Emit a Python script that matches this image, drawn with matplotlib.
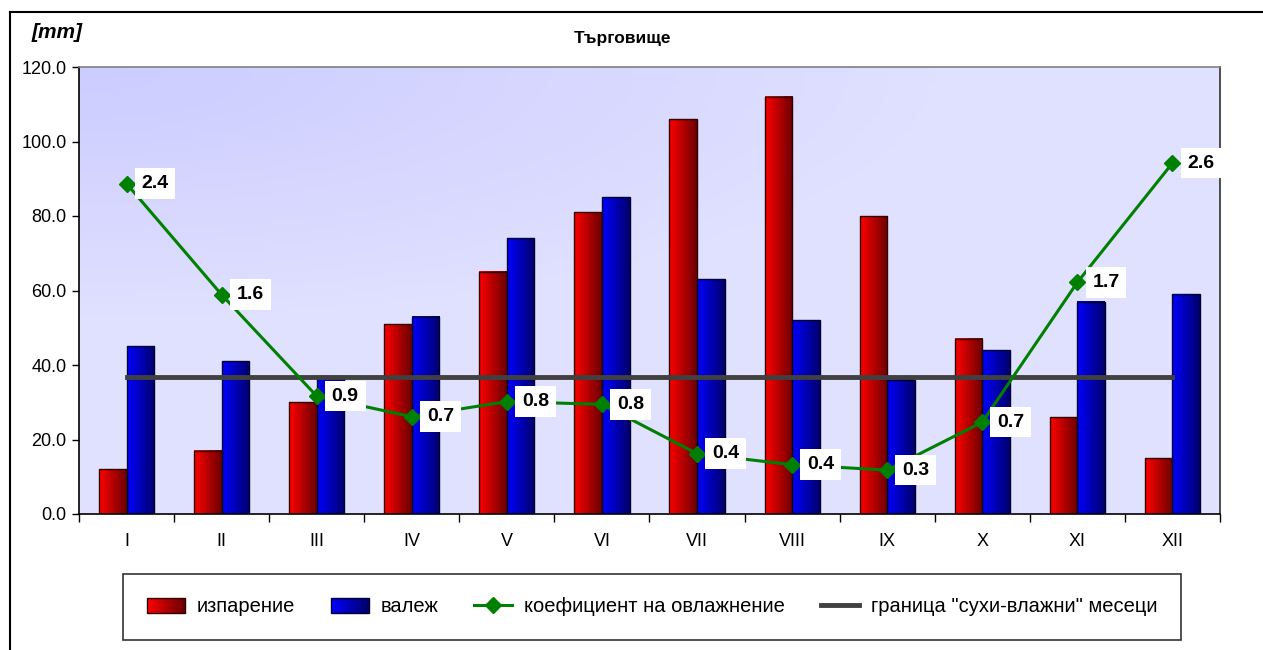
import numpy as np
import matplotlib
matplotlib.use("Agg")
import matplotlib.pyplot as plt
from matplotlib.patches import Rectangle
from matplotlib.lines import Line2D
from matplotlib.legend_handler import HandlerBase

plt.rcParams['font.family'] = ['Liberation Sans', 'DejaVu Sans']

months = ['I', 'II', 'III', 'IV', 'V', 'VI', 'VII', 'VIII', 'IX', 'X', 'XI', 'XII']
evaporation = [12, 17, 30, 51, 65, 81, 106, 112, 80, 47, 26, 15]
precipitation = [45, 41, 37, 53, 74, 85, 63, 52, 36, 44, 57, 59]
coefficient = [2.41, 1.60, 0.86, 0.71, 0.82, 0.80, 0.44, 0.36, 0.32, 0.67, 1.69, 2.56]
boundary = [1.0] * 12
mm_per_coef = 36.8
y_ticks = [0, 20, 40, 60, 80, 100, 120]

title = 'Търговище'
unit = '[mm]'
lbl_evap = 'изпарение'
lbl_prec = 'валеж'
lbl_coef = 'коефициент на овлажнение'
lbl_bound = 'граница "сухи-влажни" месеци'

fig = plt.figure(figsize=(12.63, 6.5), dpi=100)
ax = fig.add_axes([79/1263, 1-514/650, (1220-79)/1263, (514-67)/650])

# background gradient (darker at top-left)
ny, nx = 100, 200
u = np.linspace(0, 1, nx)[None, :]
v = np.linspace(0, 1, ny)[:, None]
t = np.clip(np.sqrt((u*1.2)**2 + (v*1.6)**2) / 0.9, 0, 1)
c = (0xCC + (0xE0 - 0xCC) * t) / 255.0
bg = np.dstack([c, c, np.ones_like(c)])
ax.imshow(bg, extent=[0, 1, 0, 1], origin='upper', transform=ax.transAxes, aspect='auto', zorder=0)

def grad(col_l, col_r, n=64):
    a = np.array(col_l)[None, :]
    b = np.array(col_r)[None, :]
    s = np.linspace(0, 1, n)[:, None]
    return (a * (1 - s) + b * s)[None, :, :]

red_grad = grad((1.0, 0.0, 0.0), (0.42, 0.0, 0.0))
blue_grad = grad((0.0, 0.0, 1.0), (0.0, 0.0, 0.42))

x = np.arange(len(months))
w = 0.29
bars_r = ax.bar(x - w/2, evaporation, width=w, facecolor='none', edgecolor='#300000', linewidth=1.0, zorder=3)
bars_b = ax.bar(x + w/2, precipitation, width=w, facecolor='none', edgecolor='#000030', linewidth=1.0, zorder=3)
for bars, g in ((bars_r, red_grad), (bars_b, blue_grad)):
    for r in bars:
        x0, wd, h = r.get_x(), r.get_width(), r.get_height()
        ax.imshow(g, extent=[x0, x0 + wd, 0, h], aspect='auto', zorder=2, interpolation='bilinear')

ax.set_xlim(-0.5, len(months) - 0.5)
ax.set_ylim(0, 120)
ax.set_yticks(y_ticks)
ax.set_yticklabels([f'{v:.1f}' for v in y_ticks])
ax.set_xticks(np.arange(len(months) + 1) - 0.5)
ax.set_xticklabels([])
ax.set_xticks(x, minor=True)
ax.set_xticklabels(months, minor=True)
ax.tick_params(axis='x', which='major', direction='out', length=6, width=1, color='black')
ax.tick_params(axis='x', which='minor', length=0, pad=14, labelsize=13)
ax.tick_params(axis='y', direction='out', length=5, width=1, labelsize=13, pad=4)
ax.spines['left'].set_color('black')
ax.spines['bottom'].set_color('black')
ax.spines['top'].set_color('#808080')
ax.spines['right'].set_color('#303030')
for s in ax.spines.values():
    s.set_linewidth(1.2)

ax2 = ax.twinx()
ax2.set_ylim(0, 120 / mm_per_coef)
ax2.axis('off')
ax2.plot(x, boundary, color='#404040', linewidth=3.5, zorder=3)
ax2.plot(x, coefficient, color='#008000', linewidth=2.2, marker='D', markersize=8,
         markerfacecolor='#008000', markeredgecolor='#008000', zorder=4)
for xi, cv in zip(x, coefficient):
    ax2.annotate(f'{cv:.1f}', (xi, cv), xytext=(15, 0), textcoords='offset pixels',
                 ha='left', va='center', fontsize=14, fontweight='bold', zorder=5,
                 bbox=dict(boxstyle='square,pad=0.35', facecolor='white', edgecolor='none'))

fig.text(622/1263, 1-38/650, title, ha='center', va='center', fontsize=12.5, fontweight='bold')
fig.text(32/1263, 1-32/650, unit, ha='left', va='center', fontsize=15, fontweight='bold', style='italic')

# figure border
fig.add_artist(Line2D([9.5/1263, 9.5/1263], [0, 1-12/650], transform=fig.transFigure, color='black', linewidth=1.5))
fig.add_artist(Line2D([9.5/1263, 1], [1-12/650, 1-12/650], transform=fig.transFigure, color='black', linewidth=1.5))

class GradHandler(HandlerBase):
    def __init__(self, c1, c2, ec):
        super().__init__()
        self.c1, self.c2, self.ec = np.array(c1), np.array(c2), ec
    def create_artists(self, legend, orig_handle, xdescent, ydescent, width, height, fontsize, trans):
        arts = []
        n = 24
        for i in range(n):
            s = i / (n - 1)
            col = self.c1 * (1 - s) + self.c2 * s
            arts.append(Rectangle((-xdescent + width * i / n, -ydescent), width / n + 0.3, height,
                                  facecolor=col, edgecolor='none', transform=trans))
        arts.append(Rectangle((-xdescent, -ydescent), width, height, facecolor='none',
                              edgecolor=self.ec, linewidth=1.0, transform=trans))
        return arts

h_r = Rectangle((0, 0), 1, 1)
h_b = Rectangle((0, 0), 1, 1)
h_c = Line2D([], [], color='#008000', linewidth=2.2, marker='D', markersize=8)
h_l = Line2D([], [], color='#404040', linewidth=3.5)
leg = fig.legend([h_r, h_b, h_c, h_l], [lbl_evap, lbl_prec, lbl_coef, lbl_bound],
                 loc='center', bbox_to_anchor=(652/1263, 1-607/650), ncol=4, fontsize=14.5,
                 frameon=True, fancybox=False, edgecolor='black', borderpad=1.15,
                 handlelength=1.9, handletextpad=0.6, columnspacing=1.75,
                 handler_map={h_r: GradHandler((1, 0, 0), (0.42, 0, 0), '#300000'),
                              h_b: GradHandler((0, 0, 1), (0, 0, 0.42), '#000030')})
leg.get_frame().set_linewidth(1.2)

fig.savefig('out.png', dpi=100)
